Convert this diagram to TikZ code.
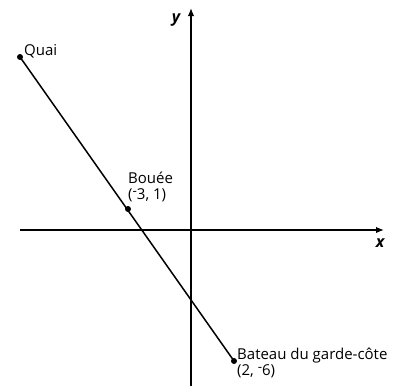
\documentclass[tikz,border=0pt]{standalone}
\usepackage{fontspec}
\setmainfont{Open Sans}
\usetikzlibrary{arrows.meta}
\newcommand{\rminus}{\raisebox{0.5ex}{\scalebox{0.9}{-}}}
\begin{document}
\begin{tikzpicture}[x=1pt,y=-1pt,
  axis/.style={line width=1.5pt,-{Latex[length=8pt,width=6.5pt]}},
  seg/.style={line width=1.5pt},
  pt/.style={circle,fill=black,inner sep=0pt,minimum size=6pt},
  lbl/.style={font=\fontsize{15}{16.5}\selectfont,inner sep=0pt,align=left},
  axlbl/.style={font=\fontsize{16}{18}\selectfont\bfseries\itshape,inner sep=0pt}]
\useasboundingbox (0,0) rectangle (396,386);
\coordinate (xs) at (20,230);
\coordinate (xe) at (384,230);
\coordinate (ys) at (191,386);
\coordinate (ye) at (191,8);
\draw[axis] (xs) -- (xe);
\draw[axis] (ys) -- (ye);
\node[axlbl] (xl) at (380,243) {x};
\node[axlbl] (yl) at (176,20) {y};
\node[pt] (quai) at (20,57) {};
\node[pt] (bouee) at (128,209) {};
\node[pt] (bateau) at (234,361) {};
\draw[seg] (quai.center) -- (bateau.center);
\node[lbl,anchor=base west] (tq) at (24,55) {Quai};
\node[lbl,anchor=west] (tb) at (128,187) {Bouée\\(\rminus3, 1)};
\node[lbl,anchor=west] (tc) at (237,363) {Bateau du garde-côte\\(2, \rminus6)};
\end{tikzpicture}
\end{document}
